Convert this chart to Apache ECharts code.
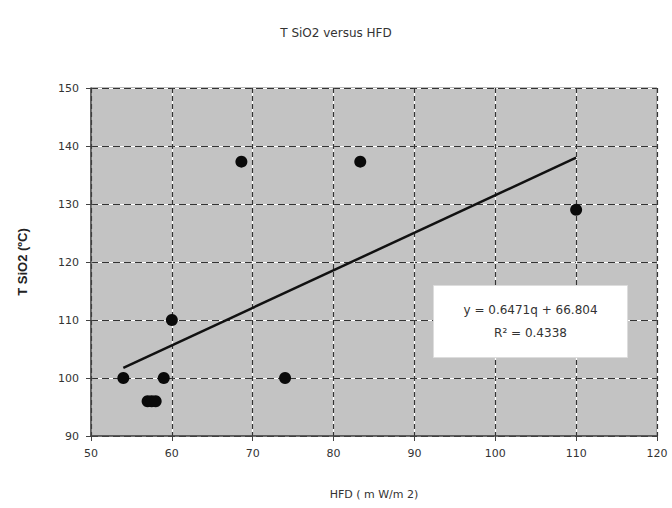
<!DOCTYPE html>
<html>
<head>
<meta charset="utf-8">
<script src="https://cdn.jsdelivr.net/npm/echarts@6/dist/echarts.min.js"></script>
<style>
  html, body { margin: 0; padding: 0; background: #fff; }
  #chart { width: 672px; height: 508px; }
</style>
</head>
<body>
<div id="chart"></div>
<script>
(function() {
  var hfd = [54, 57, 57.5, 58, 59, 60, 68.6, 74, 83.3, 110];
  var tsio2 = [100, 96, 96, 96, 100, 110, 137.3, 100, 137.3, 129];
  var slope = 0.6471;
  var intercept = 66.804;
  var r2 = 0.4338;
  var xTicks = [50, 60, 70, 80, 90, 100, 110, 120];
  var yTicks = [90, 100, 110, 120, 130, 140, 150];

  var points = hfd.map(function(x, i) { return [x, tsio2[i]]; });
  var xmin = Math.min.apply(null, hfd), xmax = Math.max.apply(null, hfd);
  var trend = [[xmin, slope * xmin + intercept], [xmax, slope * xmax + intercept]];

  var font = 'DejaVu Sans, Arial, sans-serif';
  var ink = '#333';

  var chart = echarts.init(document.getElementById('chart'), null, { renderer: 'svg' });

  chart.setOption({
    animation: false,
    backgroundColor: '#fff',
    title: {
      text: 'T SiO2 versus HFD',
      left: 'center', top: 22,
      textStyle: { fontFamily: font, fontSize: 12, fontWeight: 'normal', color: ink }
    },
    grid: {
      left: 91, right: 15, top: 88, bottom: 72,
      show: true, backgroundColor: '#c3c3c3', borderColor: '#707070', borderWidth: 1
    },
    xAxis: [
      {
        type: 'value', min: xTicks[0], max: xTicks[xTicks.length - 1], interval: 10,
        name: 'HFD ( m W/m 2)', nameLocation: 'middle', nameGap: 53,
        nameTextStyle: { fontFamily: font, fontSize: 11, color: ink },
        axisLine: { show: true, onZero: false, lineStyle: { color: '#444', width: 1.5 } },
        axisTick: { show: true, inside: false, length: 5, lineStyle: { color: '#444' } },
        axisLabel: { fontFamily: font, fontSize: 11, color: ink, margin: 12 },
        splitLine: { show: true, lineStyle: { color: '#ffffff', width: 1.2 } }
      },
      {
        type: 'value', min: xTicks[0], max: xTicks[xTicks.length - 1], interval: 10,
        position: 'bottom',
        axisLine: { show: false }, axisTick: { show: false }, axisLabel: { show: false },
        splitLine: { show: true, lineStyle: { color: '#333', width: 1.2, type: [5, 3] } }
      }
    ],
    yAxis: [
      {
        type: 'value', min: yTicks[0], max: yTicks[yTicks.length - 1], interval: 10,
        name: 'T SiO2 (ºC)', nameLocation: 'middle', nameGap: 62,
        nameTextStyle: { fontFamily: 'Liberation Sans, Arial, sans-serif', fontSize: 13, fontWeight: 'bold', color: '#222' },
        axisLine: { show: true, onZero: false, lineStyle: { color: '#444', width: 1.5 } },
        axisTick: { show: true, inside: false, length: 5, lineStyle: { color: '#444' } },
        axisLabel: { fontFamily: font, fontSize: 11, color: ink, margin: 12 },
        splitLine: { show: true, lineStyle: { color: '#ffffff', width: 1.2 } }
      },
      {
        type: 'value', min: yTicks[0], max: yTicks[yTicks.length - 1], interval: 10,
        position: 'left',
        axisLine: { show: false }, axisTick: { show: false }, axisLabel: { show: false },
        splitLine: { show: true, lineStyle: { color: '#333', width: 1.2, type: [7, 4] } }
      }
    ],
    series: [
      {
        type: 'line',
        data: trend,
        symbol: 'none',
        lineStyle: { color: '#111', width: 2.5 },
        z: 3
      },
      {
        type: 'scatter',
        data: points,
        symbol: 'circle',
        symbolSize: 12,
        itemStyle: { color: '#0a0a0a', opacity: 1 },
        z: 4
      }
    ],
    graphic: [
      {
        type: 'group', left: 433, top: 285, z: 100,
        children: [
          { type: 'rect', z: 100, shape: { x: 0, y: 0, width: 194, height: 72 }, style: { fill: '#fff', stroke: '#ddd', lineWidth: 1 } },
          { type: 'text', z: 101, style: { x: 97, y: 24, text: 'y = ' + slope + 'q + ' + intercept, align: 'center', verticalAlign: 'middle', font: '12px ' + font, fill: '#333' } },
          { type: 'text', z: 101, style: { x: 97, y: 47, text: 'R² = ' + r2, align: 'center', verticalAlign: 'middle', font: '12px ' + font, fill: '#333' } }
        ]
      }
    ]
  });
})();
</script>
</body>
</html>
